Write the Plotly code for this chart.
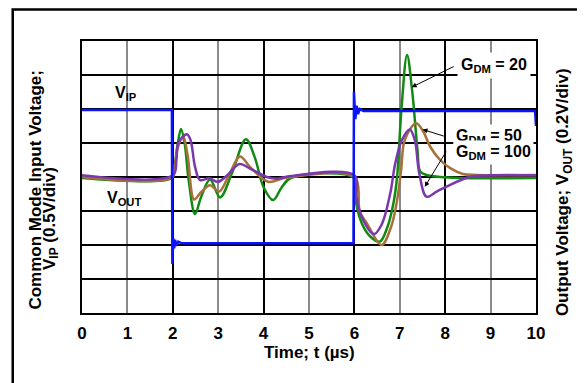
import plotly.graph_objects as go

# time in µs, vertical values in screen divisions (0..8)
VIP_T = [0, 1.98, 1.99, 2.01, 2.03, 2.05, 2.08, 2.12, 2.2, 5.98, 5.99, 6.02, 6.05,
         6.08, 6.12, 6.2, 9.98, 10.0]
VIP_V = [5.97, 5.97, 1.44, 2.2, 1.9, 2.15, 1.98, 2.1, 2.05, 2.05, 6.5, 5.7, 6.1,
         5.85, 6.0, 5.94, 5.94, 5.5]

G20_T = [0, 1.98, 2.03, 2.1, 2.18, 2.26, 2.35, 2.49, 2.62, 2.82, 3.04, 3.3, 3.61,
         3.8, 4.0, 4.21, 4.4, 4.6, 5.99, 6.03, 6.16, 6.35, 6.56, 6.72, 6.86, 6.94,
         7.04, 7.16, 7.27, 7.39, 7.45, 7.59, 7.89, 8.3, 10]
G20_V = [3.97, 3.97, 4.2, 4.9, 5.41, 5.0, 3.9, 2.91, 3.4, 3.93, 3.40, 4.1, 5.11,
         4.6, 3.7, 3.32, 3.7, 3.97, 3.97, 3.3, 2.65, 2.25, 2.10, 2.5, 3.23, 4.0,
         6.07, 7.59, 6.56, 4.79, 4.16, 4.06, 4.0, 3.97, 3.97]

G50_T = [0, 1.99, 2.05, 2.12, 2.23, 2.33, 2.47, 2.62, 2.82, 3.02, 3.25, 3.48, 3.7,
         4.10, 4.4, 4.6, 5.99, 6.12, 6.27, 6.60, 6.8, 6.93, 7.03, 7.11, 7.36, 7.52,
         7.67, 7.89, 8.11, 8.39, 8.7, 10]
G50_V = [4.0, 4.0, 4.4, 4.9, 5.19, 4.6, 3.34, 3.55, 3.76, 3.57, 4.1, 4.60, 4.3,
         3.86, 3.95, 4.0, 4.0, 2.98, 2.65, 2.0, 2.5, 3.23, 4.21, 5.09, 5.58, 5.33,
         4.89, 4.5, 4.26, 4.09, 4.06, 4.06]

G100_T = [0, 2.0, 2.08, 2.12, 2.31, 2.39, 2.49, 2.6, 2.80, 3.0, 3.2, 3.47, 3.7,
          4.07, 4.3, 4.6, 6.0, 6.05, 6.16, 6.43, 6.6, 6.79, 6.9, 7.05, 7.22, 7.33,
          7.43, 7.59, 7.81, 8.03, 8.55, 9.0, 10]
G100_V = [4.05, 4.05, 4.5, 5.0, 5.26, 5.09, 4.30, 3.91, 3.96, 3.86, 4.05, 4.38, 4.25,
          4.0, 3.95, 4.03, 4.05, 3.4, 2.83, 2.32, 2.6, 3.52, 4.4, 5.1, 5.40, 5.09,
          4.1, 3.42, 3.57, 3.72, 4.01, 4.05, 4.05]

X_TICKS = list(range(0, 11))

FONT = "Liberation Sans, Arial, sans-serif"
GREY = "#8a8a8a"

fig = go.Figure()
for t, v, color, shape in [
    (G20_T, G20_V, "#118a11", "spline"),
    (G50_T, G50_V, "#a8703a", "spline"),
    (G100_T, G100_V, "#7a38ae", "spline"),
]:
    fig.add_trace(go.Scatter(x=t, y=v, mode="lines", line_shape=shape,
                             line=dict(color=color, width=2.5), showlegend=False,
                             hoverinfo="skip"))
# V_IP sits on the overlaid axis that carries the black (even) gridlines
fig.add_trace(go.Scatter(x=VIP_T, y=VIP_V, mode="lines", xaxis="x2",
                         line=dict(color="#0a14ff", width=2.5), showlegend=False,
                         hoverinfo="skip"))

# page body adds an 8px offset, so the figure is drawn 8px smaller
fig.update_layout(
    width=577, height=375,
    margin=dict(l=74, r=49, t=33, b=70),
    paper_bgcolor="white", plot_bgcolor="white",
    font=dict(family=FONT, color="black"),
    xaxis=dict(range=[0, 10], tickvals=X_TICKS, showgrid=True, gridcolor=GREY,
               gridwidth=2, zeroline=False, showline=True, mirror=True,
               linecolor="black", linewidth=2, ticks="", ticklabelstandoff=4,
               tickfont=dict(size=17, weight="bold")),
    xaxis2=dict(range=[0, 10], overlaying="x", dtick=2, tick0=0, showgrid=True,
                gridcolor="black", gridwidth=1.5, showticklabels=False,
                zeroline=False, ticks=""),
    yaxis=dict(range=[0, 8], dtick=1, showgrid=True, gridcolor="black", gridwidth=1.5,
               zeroline=False, showline=True, mirror=True, linecolor="black",
               linewidth=2, showticklabels=False, ticks=""),
)

bold = dict(family=FONT, size=17, color="black", weight="bold")
lbl = dict(family=FONT, size=16, color="black", weight="bold")
mid = dict(showarrow=False, xanchor="center", yanchor="middle")

# axis titles
fig.add_annotation(text="Common Mode Input Voltage;", xref="paper", yref="paper",
                   x=-0.1045, y=0.452, textangle=-90, font=bold, **mid)
fig.add_annotation(text="V<sub>IP</sub> (0.5V/div)", xref="paper", yref="paper",
                   x=-0.0685, y=0.349, textangle=-90, font=bold, **mid)
fig.add_annotation(text="Output Voltage; V<sub>OUT</sub> (0.2V/div)", xref="paper",
                   yref="paper", x=1.062, y=0.445, textangle=-90, font=bold, **mid)
fig.add_annotation(text="Time; t (µs)", xref="paper", yref="paper", x=0.5, y=-0.147,
                   font=bold, **mid)

# trace labels
fig.add_annotation(text="V<sub>IP</sub>", x=0.97, y=6.47, font=lbl, **mid)
fig.add_annotation(text="V<sub>OUT</sub>", x=0.92, y=3.38, font=lbl, **mid)
fig.add_annotation(text="G<sub>DM</sub> = 20", x=8.25, y=7.29, xanchor="left",
                   yanchor="middle", showarrow=False, font=lbl, bgcolor="white",
                   borderpad=3)
fig.add_annotation(text="G<sub>DM</sub> = 50", x=8.17, y=5.2, xanchor="left",
                   yanchor="middle", showarrow=False, font=lbl, bgcolor="white",
                   borderpad=2)
fig.add_annotation(text="G<sub>DM</sub> = 100", x=8.17, y=4.71, xanchor="left",
                   yanchor="middle", showarrow=False, font=lbl, bgcolor="white",
                   borderpad=2)

# pointer arrows
for hx, hy, tx, ty in [(7.26, 6.64, 8.22, 7.27), (7.50, 5.40, 8.0, 5.19),
                       (7.55, 3.71, 8.04, 4.79)]:
    fig.add_annotation(text="", x=hx, y=hy, ax=tx, ay=ty, axref="x", ayref="y",
                       showarrow=True, arrowhead=2, arrowsize=1, arrowwidth=1,
                       arrowcolor="black")

# outer frame (top edge as high as the page allows)
fig.add_shape(type="rect", xref="paper", yref="paper", x0=-0.1526, x1=1.2,
              y0=-0.4, y1=1.1158, line=dict(color="black", width=2.5))

fig.write_html("out.html")
